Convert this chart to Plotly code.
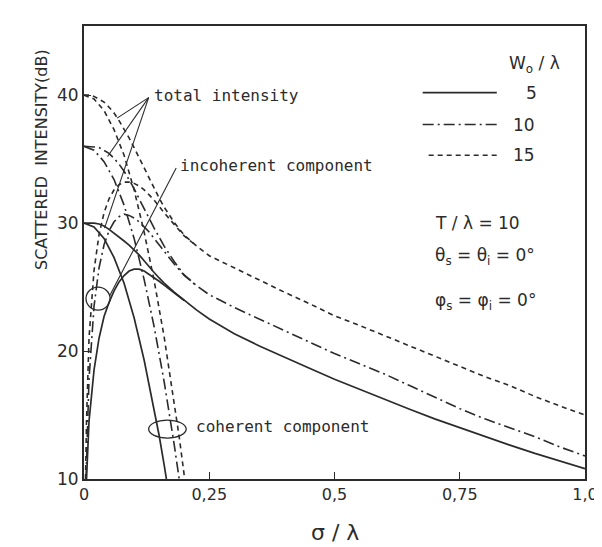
import plotly.graph_objects as go

# ---------------- data ----------------
# sigma / lambda grid used for the total-intensity curves
x_total = [0, 0.01, 0.02, 0.03, 0.04, 0.05, 0.06, 0.07, 0.08, 0.09, 0.10, 0.11, 0.12,
           0.13, 0.14, 0.15, 0.16, 0.18, 0.20, 0.225, 0.25, 0.30, 0.35, 0.40, 0.45,
           0.50, 0.55, 0.60, 0.65, 0.70, 0.75, 0.80, 0.85, 0.90, 0.95, 1.00]

# W/lambda = 5 (solid)
total_w5 = [30.0, 30.0, 30.0, 29.93, 29.77, 29.51, 29.23, 28.93, 28.6, 28.28, 27.92, 27.51, 27.06,
            26.57, 26.14, 25.71, 25.31, 24.61, 23.97, 23.2, 22.5, 21.35, 20.4, 19.5, 18.65,
            17.8, 17.0, 16.2, 15.45, 14.7, 14.0, 13.3, 12.65, 12.0, 11.4, 10.8]
# W/lambda = 10 (dash-dot)
total_w10 = [36.0, 36.0, 35.95, 35.9, 35.7, 35.45, 35.05, 34.6, 34.05, 33.4, 32.7, 31.9, 31.1,
             30.4, 29.6, 28.9, 28.2, 27.0, 25.95, 25.1, 24.4, 23.4, 22.5, 21.6, 20.7,
             19.8, 19.0, 18.2, 17.3, 16.4, 15.5, 14.7, 14.0, 13.3, 12.5, 11.8]
# W/lambda = 15 (dashed)
total_w15 = [40.0, 40.0, 39.9, 39.7, 39.45, 39.05, 38.6, 38.0, 37.35, 36.65, 35.9, 35.1, 34.3,
             33.5, 32.7, 31.95, 31.25, 30.05, 29.05, 28.2, 27.45, 26.5, 25.5, 24.6, 23.7,
             22.75, 22.0, 21.2, 20.45, 19.6, 18.8, 18.0, 17.3, 16.45, 15.7, 15.0]

# incoherent component
x_inc_w5 = [0.005, 0.01, 0.02, 0.03, 0.04, 0.05, 0.06, 0.07, 0.08, 0.09, 0.10, 0.11, 0.12,
            0.13, 0.14, 0.15, 0.16, 0.18, 0.20]
inc_w5 = [10.0, 14.5, 18.5, 21.0, 22.7, 23.8, 24.7, 25.4, 25.9, 26.25, 26.4, 26.4, 26.25,
          26.0, 25.75, 25.45, 25.15, 24.55, 23.95]
x_inc_w10 = [0.004, 0.01, 0.02, 0.03, 0.04, 0.05, 0.06, 0.07, 0.08, 0.09, 0.10, 0.11, 0.12,
             0.13, 0.14, 0.15, 0.16, 0.18, 0.20, 0.225]
inc_w10 = [10.0, 17.8, 23.5, 26.5, 28.3, 29.4, 30.1, 30.5, 30.7, 30.6, 30.4, 30.1, 29.7,
           29.3, 28.8, 28.3, 27.8, 26.8, 25.9, 25.1]
x_inc_w15 = [0.003, 0.005, 0.01, 0.02, 0.03, 0.04, 0.05, 0.06, 0.07, 0.08, 0.09, 0.10, 0.11,
             0.12, 0.13, 0.14, 0.15, 0.16, 0.18, 0.20, 0.225]
inc_w15 = [10.0, 14.5, 21.0, 26.3, 29.1, 30.8, 31.9, 32.6, 33.0, 33.2, 33.2, 33.1, 32.9,
           32.6, 32.2, 31.8, 31.3, 30.8, 29.9, 29.0, 28.2]

# coherent component
x_coh_w5 = [0, 0.02, 0.04, 0.06, 0.08, 0.10, 0.12, 0.14, 0.15, 0.16, 0.1645]
coh_w5 = [30.0, 29.7, 28.8, 27.3, 25.3, 22.6, 19.3, 15.5, 13.4, 11.1, 10.0]
x_coh_w10 = [0, 0.02, 0.04, 0.06, 0.08, 0.10, 0.12, 0.14, 0.16, 0.17, 0.18, 0.19]
coh_w10 = [36.0, 35.7, 34.8, 33.4, 31.4, 28.8, 25.6, 21.9, 17.6, 15.2, 12.7, 10.0]
x_coh_w15 = [0, 0.02, 0.04, 0.06, 0.08, 0.10, 0.12, 0.14, 0.16, 0.18, 0.19, 0.201]
coh_w15 = [40.0, 39.7, 38.8, 37.3, 35.3, 32.6, 29.3, 25.5, 21.1, 16.0, 13.3, 10.0]

legend_labels = ["5", "10", "15"]
x_tickvals = [0, 0.25, 0.5, 0.75, 1.0]
x_ticktext = ["0", "0,25", "0,5", "0,75", "1,0"]
y_tickvals = [10, 20, 30, 40]
y_ticktext = ["10", "20", "30", "40"]

# ---------------- figure ----------------
INK = "#2b2b2b"
styles = {
    "w5": dict(color=INK, width=1.7, dash="solid"),
    "w10": dict(color=INK, width=1.6, dash="11px,4px,2px,4px"),
    "w15": dict(color=INK, width=1.6, dash="5px,4px"),
}

fig = go.Figure()
series = [
    (x_total, total_w5, "w5"), (x_inc_w5, inc_w5, "w5"), (x_coh_w5, coh_w5, "w5"),
    (x_total, total_w10, "w10"), (x_inc_w10, inc_w10, "w10"), (x_coh_w10, coh_w10, "w10"),
    (x_total, total_w15, "w15"), (x_inc_w15, inc_w15, "w15"), (x_coh_w15, coh_w15, "w15"),
]
for xs, ys, key in series:
    fig.add_trace(go.Scatter(x=xs, y=ys, mode="lines", line=styles[key],
                             showlegend=False, hoverinfo="skip"))

shapes = []
# legend sample lines
leg_y = [40.2, 37.7, 35.3]
leg_x0 = [0.676, 0.676, 0.688]
for key, yv, x0 in zip(["w5", "w10", "w15"], leg_y, leg_x0):
    shapes.append(dict(type="line", xref="x", yref="y", x0=x0, x1=0.824, y0=yv, y1=yv,
                       line=styles[key]))
# leader lines for "total intensity"
for ex, ey in [(0.066, 38.2), (0.047, 35.2), (0.041, 29.6)]:
    shapes.append(dict(type="line", xref="x", yref="y", x0=0.129, y0=39.8, x1=ex, y1=ey,
                       line=dict(color=INK, width=1.1)))
# leader for incoherent component
shapes.append(dict(type="line", xref="x", yref="y", x0=0.184, y0=34.3, x1=0.051, y1=24.3,
                   line=dict(color=INK, width=1.1)))
# ellipses
shapes.append(dict(type="circle", xref="x", yref="y", x0=0.004, x1=0.052, y0=23.2, y1=25.0,
                   line=dict(color=INK, width=1.3)))
shapes.append(dict(type="circle", xref="x", yref="y", x0=0.129, x1=0.204, y0=13.2, y1=14.6,
                   line=dict(color=INK, width=1.3)))

LBL = dict(family="DejaVu Sans Mono", size=16, color=INK)
TXT = dict(family="DejaVu Sans", size=17, color=INK)
annotations = [
    dict(text="total intensity", x=0.135, y=40.0, xanchor="left", yanchor="middle", font=LBL),
    dict(text="incoherent component", x=0.1875, y=34.5, xanchor="left", yanchor="middle", font=LBL),
    dict(text="coherent component", x=0.219, y=14.1, xanchor="left", yanchor="middle", font=LBL),
    dict(text="W<sub>o</sub> / λ", x=0.9, y=42.4, xanchor="center", yanchor="middle", font=TXT),
    dict(text="T / λ = 10", x=0.697, y=30.0, xanchor="left", yanchor="middle", font=TXT),
    dict(text="θ<sub>s</sub> = θ<sub>i</sub> = 0°", x=0.697, y=27.4, xanchor="left",
         yanchor="middle", font=TXT),
    dict(text="φ<sub>s</sub> = φ<sub>i</sub> = 0°", x=0.697, y=23.9, xanchor="left",
         yanchor="middle", font=TXT),
]
for lab, yv in zip(legend_labels, leg_y):
    annotations.append(dict(text=lab, x=0.893 if lab == "5" else 0.879, y=yv,
                            xanchor="center", yanchor="middle", font=TXT))
for a in annotations:
    a.setdefault("xref", "x")
    a.setdefault("yref", "y")
    a["showarrow"] = False
annotations.append(dict(text="SCATTERED  INTENSITY(dB)", textangle=-90, xref="paper", yref="y",
                        x=-0.086, y=35.0, xanchor="center", yanchor="middle", showarrow=False,
                        font=dict(family="DejaVu Sans", size=16, color=INK)))
annotations.append(dict(text="σ / λ", xref="paper", yref="paper", x=0.5, y=-0.118,
                        xanchor="center", yanchor="middle", showarrow=False,
                        font=dict(family="DejaVu Sans", size=22, color=INK)))

fig.update_layout(
    width=602, height=547,
    margin=dict(l=76, r=14, t=18, b=76),
    paper_bgcolor="white", plot_bgcolor="white",
    shapes=shapes, annotations=annotations,
    xaxis=dict(range=[0, 1.0], tickvals=x_tickvals, ticktext=x_ticktext,
               showgrid=False, zeroline=False, showline=True, mirror=True,
               linecolor=INK, linewidth=2, ticks="inside", ticklen=7, tickcolor=INK,
               tickfont=dict(family="DejaVu Sans", size=16, color=INK)),
    yaxis=dict(range=[10, 45.4], tickvals=y_tickvals, ticktext=y_ticktext,
               showgrid=False, zeroline=False, showline=True, mirror=True,
               linecolor=INK, linewidth=2, ticks="inside", ticklen=7, tickcolor=INK,
               tickfont=dict(family="DejaVu Sans", size=17, color=INK)),
)

fig.write_html("out.html")
